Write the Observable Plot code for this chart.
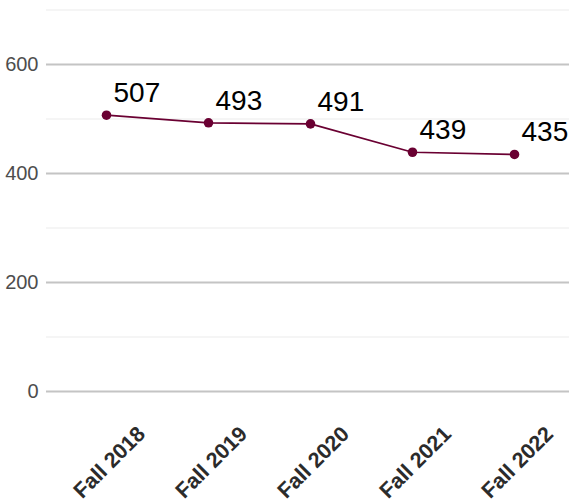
<!DOCTYPE html>
<html><head><meta charset="utf-8">
<script src="https://cdn.jsdelivr.net/npm/d3@7"></script>
<script src="https://cdn.jsdelivr.net/npm/@observablehq/plot@0.6"></script>
<style>html,body{margin:0;padding:0;background:#fff;overflow:hidden}</style>
</head><body><div id="chart"></div>
<script>
const terms = ["Fall 2018", "Fall 2019", "Fall 2020", "Fall 2021", "Fall 2022"];
const counts = [507, 493, 491, 439, 435];
const majorTicks = [0, 200, 400, 600];
const minorTicks = [100, 300, 500, 700];

const data = terms.map((t, i) => ({term: t, count: counts[i]}));

const chart = Plot.plot({
  width: 569,
  height: 503,
  marginLeft: 46,
  marginRight: 0,
  marginTop: 0,
  marginBottom: 93,
  style: {fontFamily: "'Liberation Sans', Arial, sans-serif", background: "#fff", overflow: "hidden"},
  x: {type: "point", domain: terms, range: [106, 514], padding: 0, label: null},
  y: {domain: [0, 700], range: [391, 9.5], label: null},
  marks: [
    Plot.ruleY(minorTicks, {stroke: "#ebebeb", strokeWidth: 1}),
    Plot.ruleY(majorTicks, {stroke: "#c4c4c4", strokeWidth: 1.8}),
    Plot.axisY(majorTicks, {tickSize: 0, tickPadding: 8, fontSize: 20, fill: "#4d4d4d", label: null}),
    Plot.axisX({tickSize: 0, tickPadding: 0, tickRotate: -45, textAnchor: "middle", fontSize: 21.5, fontWeight: "bold", fill: "#2b2b2b", label: null, dx: 3, dy: 52}),
    Plot.line(data, {x: "term", y: "count", stroke: "#6a0032", strokeWidth: 1.7}),
    Plot.dot(data, {x: "term", y: "count", r: 4.8, fill: "#6a0032", stroke: "none"}),
    Plot.text(data, {x: "term", y: "count", text: d => String(d.count), textAnchor: "start", dx: 7, dy: -22, fontSize: 28, fill: "#000"})
  ]
});
document.getElementById("chart").appendChild(chart);
</script>
</body></html>
